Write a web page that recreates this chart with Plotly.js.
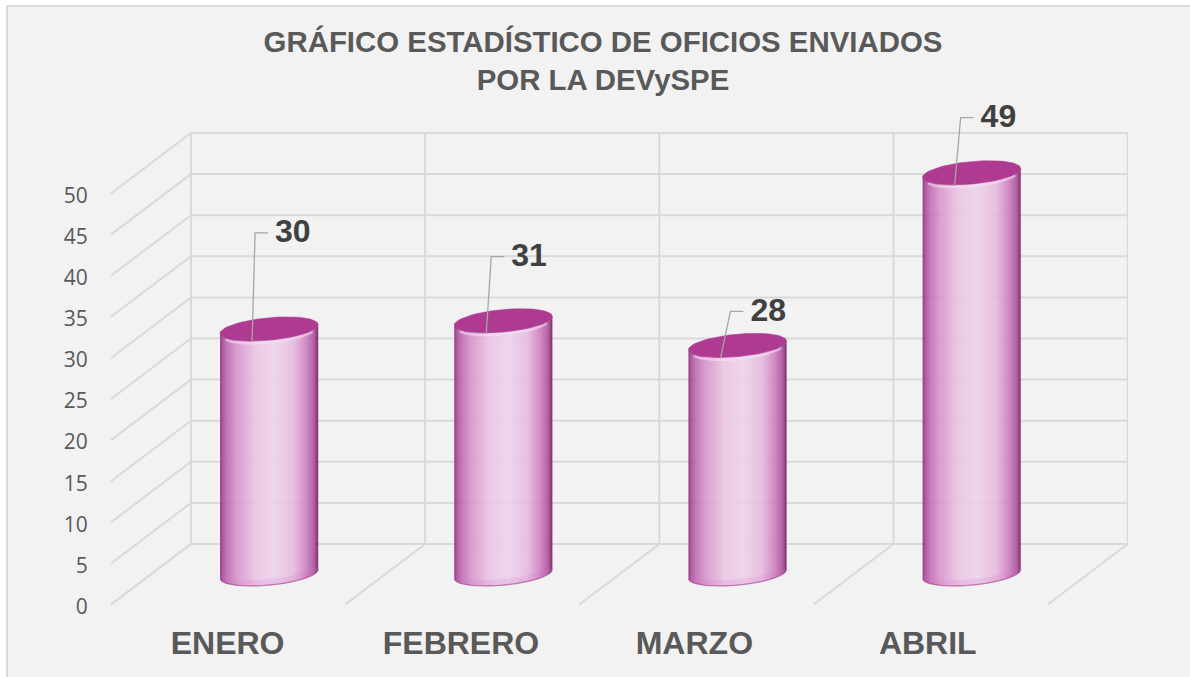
<!DOCTYPE html>
<html><head><meta charset="utf-8">
<script src="https://cdn.plot.ly/plotly-3.0.1.min.js"></script>
<style>html,body{margin:0;padding:0;background:#fff}#c{width:1190px;height:677px}</style>
</head><body><div id="c"></div>
<script>
const categories = ["ENERO", "FEBRERO", "MARZO", "ABRIL"];
const values = [30, 31, 28, 49];
const yTicks = [0, 5, 10, 15, 20, 25, 30, 35, 40, 45, 50];
const titleText = "GRÁFICO ESTADÍSTICO DE OFICIOS ENVIADOS<br>POR LA DEVySPE";
// label placement (pixels above the top of each cylinder, elbow lean)
const labelLift = [96, 64, 34, 55];
const leaderLean = [3, 5, 10, 6];

// geometry of the plot area, in pixels
const W = 1190, H = 677, L = 110.5, R = 1128, T = 80, B = 607;
const pxX = 234.3, pxY = 8.22;
const xMin = -0.5, xMax = xMin + (R - L) / pxX, yMin = -2.5 / pxY, yMax = yMin + (B - T) / pxY;
const depthX = 80 / pxX, depthY = 60.5 / pxY;
const midX = 41 / pxX, topShift = 29 / pxY, bottomShift = 30.5 / pxY;
const A = 49, Bb = 11.2, S = 4.4;

const grid = { color: "#d9d9d9", width: 2 };
const traces = [];
function seg(xs, ys, line) {
  traces.push({ type: "scatter", mode: "lines", x: xs, y: ys, line, hoverinfo: "skip", showlegend: false, cliponaxis: false });
}
// walls
yTicks.forEach(v => {
  seg([xMin, xMin + depthX, xMax], [v, v + depthY, v + depthY], grid);
});
const slots = categories.map((c, i) => i - 0.5).concat([categories.length - 0.5]);
slots.forEach(s => {
  const bx = s + depthX;
  seg([s, bx, bx], [0, depthY, 50 + depthY], grid);
});

function ell(cx, cy, t0, t1, n, lift, shrink) {
  const xs = [], ys = [], a = A - (shrink || 0);
  for (let k = 0; k <= n; k++) {
    const t = t0 + (t1 - t0) * k / n;
    xs.push(cx + a * Math.cos(t) / pxX);
    ys.push(cy + (Bb * Math.sin(t) + S * Math.cos(t) - (lift || 0)) / pxY);
  }
  return [xs, ys];
}
const stops = [
  [0, "rgba(135,45,122,0.93)"], [0.03, "rgba(170,78,154,0.9)"], [0.08, "rgba(192,108,176,0.88)"],
  [0.17, "rgba(214,146,203,0.88)"], [0.36, "rgba(235,196,228,0.9)"], [0.56, "rgba(238,210,235,0.9)"],
  [0.75, "rgba(230,184,223,0.88)"], [0.88, "rgba(206,125,192,0.9)"], [0.96, "rgba(170,84,154,0.92)"], [1, "rgba(122,36,110,0.95)"]
];
values.forEach((v, i) => {
  const cx = i + midX, top = v + topShift, bot = bottomShift;
  const front = ell(cx, bot, Math.PI, 2 * Math.PI, 48);
  const back = ell(cx, top, 2 * Math.PI, Math.PI, 48);
  traces.push({
    type: "scatter", mode: "lines", x: front[0].concat(back[0]), y: front[1].concat(back[1]),
    fill: "toself", fillcolor: "rgba(230,180,220,0.9)",
    fillgradient: { type: "horizontal", colorscale: stops },
    line: { width: 0.6, color: "rgba(130,40,118,0.5)" }, hoverinfo: "skip", showlegend: false, cliponaxis: false
  });
  // lower bevel and rim
  const band = ell(cx, bot, Math.PI * 1.03, Math.PI * 1.97, 40, -3, 1);
  seg(band[0], band[1], { color: "rgba(205,110,190,0.16)", width: 6 });
  const rim = ell(cx, bot, Math.PI * 1.02, Math.PI * 1.98, 40);
  seg(rim[0], rim[1], { color: "rgba(170,60,150,0.5)", width: 1.2 });
  // highlight under the cap
  const hi = ell(cx, top, Math.PI * 1.12, Math.PI * 1.88, 40, 2.5, 2);
  seg(hi[0], hi[1], { color: "rgba(248,225,244,0.55)", width: 2.5 });
  // cap
  const cap = ell(cx, top, 0, 2 * Math.PI, 72);
  traces.push({
    type: "scatter", mode: "lines", x: cap[0], y: cap[1], fill: "toself", fillcolor: "#ae3a92",
    line: { width: 0.5, color: "#a6358a" }, hoverinfo: "skip", showlegend: false, cliponaxis: false
  });
  // leader and label
  const foot = top - 13 / pxY, knee = top + labelLift[i] / pxY;
  const fx = cx - 17 / pxX, kx = fx + leaderLean[i] / pxX, ex = kx + 13 / pxX;
  seg([fx, kx, ex], [foot, knee, knee], { color: "#a6a6a6", width: 1.3 });
  traces.push({
    type: "scatter", mode: "text", x: [ex + 7 / pxX], y: [knee - 1.5 / pxY], text: [String(v)], textposition: "middle right",
    textfont: { family: "Liberation Sans, Arial, sans-serif", size: 32, color: "#404040", weight: 700 },
    hoverinfo: "skip", showlegend: false, cliponaxis: false
  });
});

const layout = {
  width: W, height: H, autosize: false, showlegend: false,
  paper_bgcolor: "#ffffff", plot_bgcolor: "rgba(0,0,0,0)",
  margin: { l: L, r: W - R, t: T, b: H - B, pad: 0 },
  title: {
    text: titleText, x: 603 / W, xanchor: "center", xref: "container", y: 1 - 52 / H, yanchor: "top", yref: "container",
    font: { family: "Liberation Sans, Arial, sans-serif", size: 29.4, color: "#595959", weight: 700 }
  },
  xaxis: {
    range: [xMin, xMax], tickvals: categories.map((c, i) => i * 233.5 / pxX - 0.5 / pxX), ticktext: categories, showgrid: false, zeroline: false, showline: false,
    ticks: "outside", ticklen: 8, tickcolor: "rgba(0,0,0,0)", fixedrange: true,
    tickfont: { family: "Liberation Sans, Arial, sans-serif", size: 32, color: "#595959", weight: 700 }
  },
  yaxis: {
    range: [yMin, yMax], tickvals: yTicks.map(v => v - 2 / pxY), ticktext: yTicks.map(String), showgrid: false, zeroline: false, showline: false,
    ticks: "outside", ticklen: 18, tickcolor: "rgba(0,0,0,0)", fixedrange: true,
    tickfont: { family: "Open Sans, sans-serif", size: 21, color: "#595959" }
  },
  shapes: [{
    type: "rect", layer: "below", xref: "paper", yref: "paper",
    x0: (6.5 - L) / (R - L), x1: (1230 - L) / (R - L), y0: (B - 720) / (B - T), y1: (B - 6) / (B - T),
    fillcolor: "#f2f2f2", line: { color: "#d9d9d9", width: 2 }
  }]
};
Plotly.newPlot("c", traces, layout, { displayModeBar: false, staticPlot: true });
</script></body></html>
